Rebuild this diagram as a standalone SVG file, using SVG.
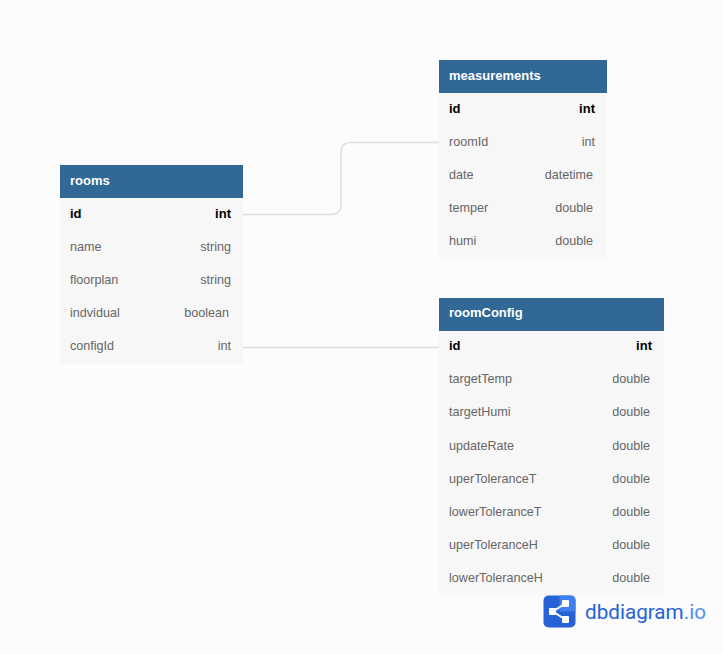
<svg xmlns="http://www.w3.org/2000/svg" width="723" height="654" viewBox="0 0 723 654">
<style>
text{font-family:"Liberation Sans",Arial,sans-serif;font-size:12.6px;fill:#666}
.t{font-weight:700;font-size:13px;fill:#fff}
.p{font-weight:700;font-size:13px;fill:#000}
.r{text-anchor:end}
.h{fill:#316896}
.b{fill:#f7f7f7}
.c{fill:none;stroke:#dfdfdf;stroke-width:1.5}
.l1{fill:#2563d6}
.l2{fill:#3f80ee}
.w{fill:#fff}
.ls{fill:none;stroke:#fff;stroke-width:2}
.lt{font-family:Roboto,sans-serif;font-size:21px;fill:#2563d6}
</style>
<rect width="723" height="654" fill="#fcfcfc"/>
<g id="connectors">
<path class="c" d="M243 214.500H331Q341 214.500 341 204.500V152.500Q341 142.500 351 142.500H439"/>
<path class="c" d="M243 347.500H439"/>
</g>
<g id="rooms">
<rect class="b" x="60" y="198" width="183" height="166"/>
<rect class="h" x="60" y="165" width="183" height="33"/>
<text class="t" x="70" y="185">rooms</text>
<text class="p" x="70" y="218">id</text><text class="p r" x="231" y="218">int</text>
<text x="70" y="251">name</text><text class="r" x="231" y="251">string</text>
<text x="70" y="284">floorplan</text><text class="r" x="231" y="284">string</text>
<text x="70" y="317">indvidual</text><text class="r" x="229" y="317">boolean</text>
<text x="70" y="350">configId</text><text class="r" x="231" y="350">int</text>
</g>
<g id="measurements">
<rect class="b" x="439" y="93" width="168" height="166"/>
<rect class="h" x="439" y="60" width="168" height="33"/>
<text class="t" x="449" y="80">measurements</text>
<text class="p" x="449" y="113">id</text><text class="p r" x="595" y="113">int</text>
<text x="449" y="146">roomId</text><text class="r" x="595" y="146">int</text>
<text x="449" y="179">date</text><text class="r" x="593" y="179">datetime</text>
<text x="449" y="212">temper</text><text class="r" x="593" y="212">double</text>
<text x="449" y="245">humi</text><text class="r" x="593" y="245">double</text>
</g>
<g id="roomConfig">
<rect class="b" x="439" y="331" width="225" height="264"/>
<rect class="h" x="439" y="298" width="225" height="33"/>
<text class="t" x="449" y="317">roomConfig</text>
<text class="p" x="449" y="350">id</text><text class="p r" x="652" y="350">int</text>
<text x="449" y="383">targetTemp</text><text class="r" x="650" y="383">double</text>
<text x="449" y="416">targetHumi</text><text class="r" x="650" y="416">double</text>
<text x="449" y="450">updateRate</text><text class="r" x="650" y="450">double</text>
<text x="449" y="483">uperToleranceT</text><text class="r" x="650" y="483">double</text>
<text x="449" y="516">lowerToleranceT</text><text class="r" x="650" y="516">double</text>
<text x="449" y="549">uperToleranceH</text><text class="r" x="650" y="549">double</text>
<text x="449" y="582">lowerToleranceH</text><text class="r" x="650" y="582">double</text>
</g>
<g id="logo">
<rect class="l1" x="543.500" y="595.500" width="32" height="32" rx="5"/>
<path class="l2" d="M559.500 595.500H570.500Q575.500 595.500 575.500 600.500V611.500H559.500Z"/>
<path class="ls" d="M566 603L553 611.500L566 620"/>
<rect class="w" x="562" y="600" width="7" height="7" rx="1"/>
<rect class="w" x="549" y="608" width="7" height="7" rx="1"/>
<rect class="w" x="562" y="616" width="7" height="7" rx="1"/>
<text class="lt" x="585" y="619" textLength="121" lengthAdjust="spacingAndGlyphs">dbdiagram<tspan fill="#4f8ef5">.io</tspan></text>
</g>
</svg>
